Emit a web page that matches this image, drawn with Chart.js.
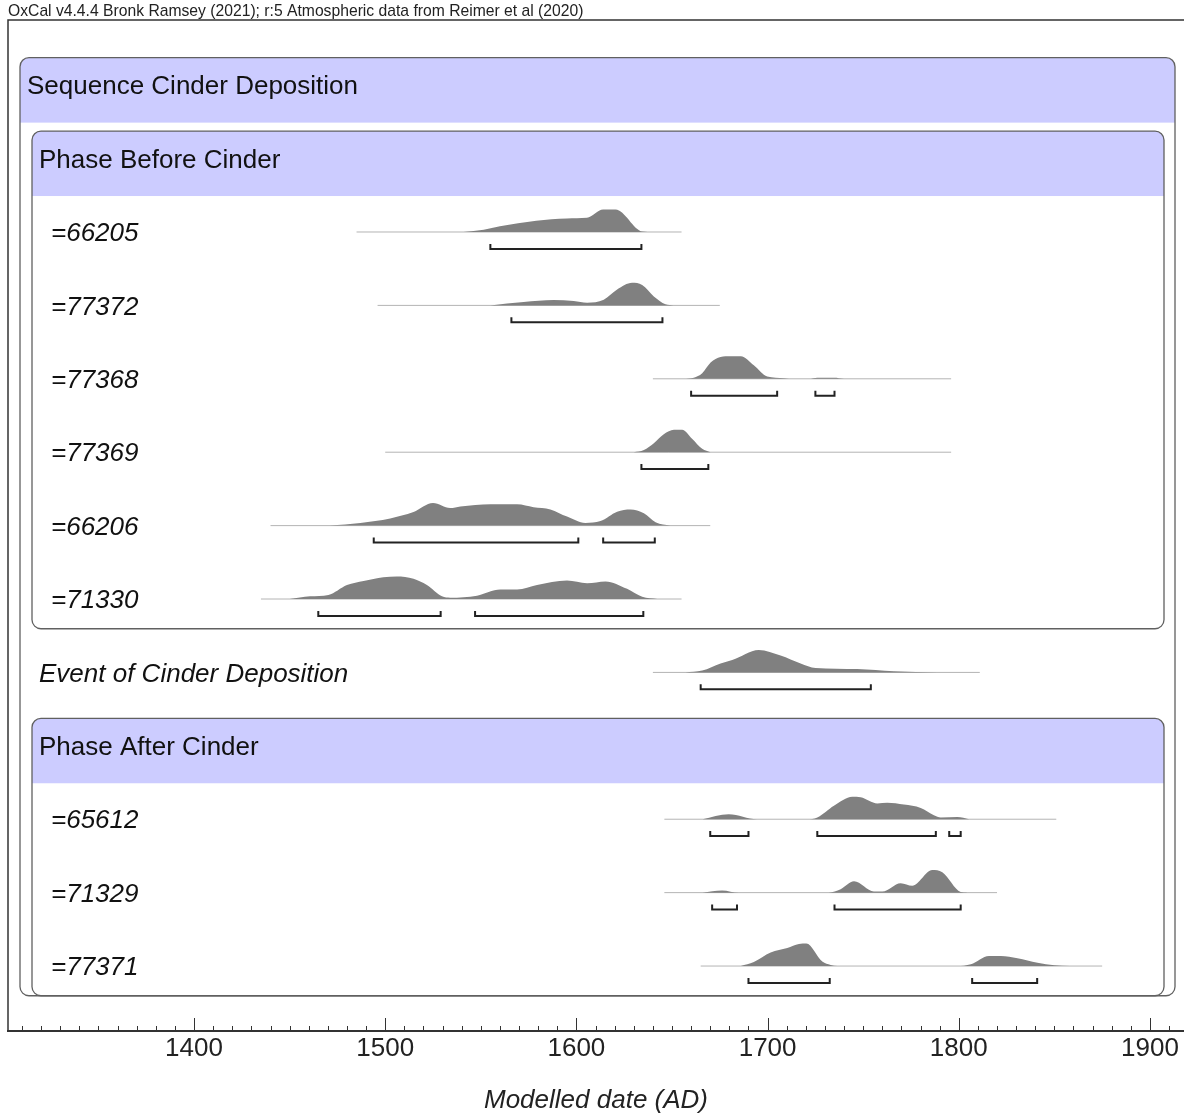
<!DOCTYPE html>
<html>
<head>
<meta charset="utf-8">
<title>Cinder Deposition - OxCal</title>
<script src="https://cdn.jsdelivr.net/npm/chart.js@4.4.0/dist/chart.umd.min.js"></script>
<style>
    html, body { margin: 0; padding: 0; background: #fff; }
    #grafico { display: block; }
</style>
</head>
<body>
<canvas id="grafico" width="1184" height="1116"></canvas>
<script>
const titulo = 'OxCal v4.4.4 Bronk Ramsey (2021); r:5 Atmospheric data from Reimer et al (2020)';
const tituloEixo = 'Modelled date (AD)';
const tickYears = [1400, 1500, 1600, 1700, 1800, 1900];

const sequenceName = 'Sequence Cinder Deposition';
const phaseNames = ['Phase Before Cinder', 'Phase After Cinder'];
const rowLabels = ['=66205', '=77372', '=77368', '=77369', '=66206', '=71330',
    'Event of Cinder Deposition', '=65612', '=71329', '=77371'];

// probability curves (relative to each curve's own maximum)
const years66205 = [1541, 1551.5, 1560, 1579, 1595, 1605.5, 1614, 1620.5, 1634.5, 1640];
const prob66205 = [0, 0.1, 0.25, 0.5, 0.6, 0.63, 1, 1, 0.02, 0];
const hpd66205 = [[1555, 1634]];
const span66205 = [1485, 1655];

const years77372 = [1555, 1572.4, 1588.1, 1598.6, 1605.6, 1614.3, 1621.3, 1629.1, 1634.4, 1640.5, 1646.6, 1650.8];
const prob77372 = [0, 0.15, 0.24, 0.2, 0.12, 0.25, 0.7, 1, 0.9, 0.4, 0.05, 0];
const hpd77372 = [[1566, 1645]];
const span77372 = [1496, 1675];

const years77368 = [1656, 1661.4, 1665.8, 1670.2, 1675.4, 1680.6, 1686, 1692.8, 1699.8, 1708.5, 1714, 1721.6, 1726, 1734.7, 1740];
const prob77368 = [0, 0.05, 0.25, 0.72, 0.97, 1, 1, 0.6, 0.1, 0.03, 0, 0, 0.05, 0.05, 0];
const hpd77368 = [[1660, 1705], [1725, 1735]];
const span77368 = [1640, 1796];

const years77369 = [1630, 1635.3, 1640.5, 1645.7, 1651, 1655.3, 1660.5, 1665.8, 1670.2];
const prob77369 = [0, 0.1, 0.4, 0.8, 1, 1, 0.6, 0.15, 0];
const hpd77369 = [[1634, 1669]];
const span77369 = [1500, 1796];

const years66206 = [1471, 1487, 1502.6, 1514.8, 1525, 1534, 1539.3, 1555, 1569, 1577.6, 1586.4, 1595.1, 1604.7, 1612.6, 1621.3, 1628.3, 1635.3, 1641.4, 1649.2];
const prob66206 = [0, 0.12, 0.32, 0.6, 1, 0.78, 0.85, 0.95, 0.95, 0.82, 0.72, 0.4, 0.12, 0.2, 0.62, 0.72, 0.55, 0.15, 0];
const hpd66206 = [[1494, 1601], [1614, 1641]];
const span66206 = [1440, 1670];

const years71330 = [1450, 1460.7, 1470.3, 1480, 1488.7, 1499, 1506, 1514.8, 1521.8, 1529.7, 1534, 1548, 1560.2, 1569, 1579.4, 1595.1, 1605.6, 1615.2, 1626.5, 1634.4, 1642.3];
const prob71330 = [0, 0.12, 0.18, 0.62, 0.8, 0.97, 1, 0.9, 0.62, 0.12, 0.06, 0.15, 0.42, 0.42, 0.62, 0.82, 0.7, 0.78, 0.45, 0.1, 0];
const hpd71330 = [[1465, 1529], [1547, 1635]];
const span71330 = [1435, 1655];

const yearsEvent = [1657, 1665.8, 1675.4, 1681.5, 1695.4, 1706.8, 1717.3, 1725.1, 1746.9, 1766.1, 1788.8];
const probEvent = [0, 0.08, 0.4, 0.55, 1, 0.75, 0.4, 0.2, 0.15, 0.05, 0];
const hpdEvent = [[1665, 1754]];
const spanEvent = [1640, 1811];

const years65612 = [1666, 1679.7, 1694.5, 1720.7, 1726, 1734.7, 1744.3, 1748.7, 1757.4, 1762.6, 1771.3, 1780.1, 1787, 1790.6, 1799.3, 1805.4];
const prob65612 = [0, 0.22, 0, 0, 0.08, 0.6, 1, 0.97, 0.7, 0.73, 0.65, 0.5, 0.18, 0.08, 0.1, 0];
const hpd65612 = [[1670, 1690], [1726, 1788], [1795, 1801]];
const span65612 = [1646, 1851];

const years71329 = [1666, 1676.2, 1685, 1732, 1738.2, 1745.2, 1755.6, 1760, 1769.6, 1775.7, 1786.1, 1791.4, 1801, 1804.5];
const prob71329 = [0, 0.1, 0, 0, 0.15, 0.5, 0.05, 0.05, 0.42, 0.3, 1, 0.9, 0.03, 0];
const hpd71329 = [[1671, 1684], [1735, 1801]];
const span71329 = [1646, 1820];

const years77371 = [1686, 1692.8, 1701.6, 1710.3, 1716.4, 1720.3, 1728.6, 1733, 1740, 1799.2, 1806.3, 1815.8, 1822, 1830.7, 1841.2, 1850, 1858];
const prob77371 = [0, 0.18, 0.6, 0.8, 0.98, 1, 0.2, 0.05, 0, 0, 0.08, 0.45, 0.45, 0.35, 0.15, 0.03, 0];
const hpd77371 = [[1690, 1732.5], [1807, 1841]];
const span77371 = [1665, 1875];

const curves = [
    [years66205, prob66205, hpd66205, span66205],
    [years77372, prob77372, hpd77372, span77372],
    [years77368, prob77368, hpd77368, span77368],
    [years77369, prob77369, hpd77369, span77369],
    [years66206, prob66206, hpd66206, span66206],
    [years71330, prob71330, hpd71330, span71330],
    [yearsEvent, probEvent, hpdEvent, spanEvent],
    [years65612, prob65612, hpd65612, span65612],
    [years71329, prob71329, hpd71329, span71329],
    [years77371, prob77371, hpd77371, span77371]
];

// row slots on the y scale (slot 7 holds the second phase header)
const slots = [0, 1, 2, 3, 4, 5, 6, 8, 9, 10];
const altura = 0.307;      // peak height in rows
const colchete = 0.23;     // bracket offset below the baseline
const perna = 0.068;       // bracket end tick

const fonte = "'Liberation Sans', Arial, sans-serif";
Chart.defaults.font.family = fonte;

const datasets = [];
curves.forEach((c, i) => {
    const slot = slots[i];
    const [anos, probs, hpd, span] = c;

    const pontos = [];
    hpd.forEach(r => {
        pontos.push({ x: r[0], y: slot + colchete - perna });
        pontos.push({ x: r[0], y: slot + colchete });
        pontos.push({ x: r[1], y: slot + colchete });
        pontos.push({ x: r[1], y: slot + colchete - perna });
        pontos.push({ x: r[1], y: null });
    });
    datasets.push({
        data: pontos,
        borderColor: '#222',
        borderWidth: 2,
        pointRadius: 0,
        fill: false,
        spanGaps: false
    });

    datasets.push({
        data: anos.map((a, k) => ({ x: a, y: slot - probs[k] * altura })),
        borderColor: 'rgba(0,0,0,0)',
        borderWidth: 0,
        backgroundColor: '#808080',
        pointRadius: 0,
        cubicInterpolationMode: 'monotone',
        fill: { value: slot }
    });

    datasets.push({
        data: [{ x: span[0], y: slot }, { x: span[1], y: slot }],
        borderColor: '#b4b4b4',
        borderWidth: 1,
        pointRadius: 0,
        fill: false
    });
});

function caixaRedonda(ctx, x, y, w, h, r) {
    ctx.beginPath();
    ctx.moveTo(x + r, y);
    ctx.lineTo(x + w - r, y);
    ctx.arcTo(x + w, y, x + w, y + r, r);
    ctx.lineTo(x + w, y + h - r);
    ctx.arcTo(x + w, y + h, x + w - r, y + h, r);
    ctx.lineTo(x + r, y + h);
    ctx.arcTo(x, y + h, x, y + h - r, r);
    ctx.lineTo(x, y + r);
    ctx.arcTo(x, y, x + r, y, r);
    ctx.closePath();
}

function desenhaCaixa(ctx, ys, esq, dir, slotTitulo, slotFim, texto) {
    const topo = ys.getPixelForValue(slotTitulo - 0.375);
    const fimTitulo = ys.getPixelForValue(slotTitulo + 0.51);
    const fundo = ys.getPixelForValue(slotFim + 0.405);
    ctx.save();
    caixaRedonda(ctx, esq, topo, dir - esq, fundo - topo, 9);
    ctx.fillStyle = '#fff';
    ctx.fill();
    ctx.save();
    ctx.clip();
    ctx.fillStyle = '#ccccff';
    ctx.fillRect(esq, topo, dir - esq, fimTitulo - topo);
    ctx.restore();
    ctx.strokeStyle = '#606060';
    ctx.lineWidth = 1.3;
    ctx.stroke();
    ctx.fillStyle = '#111';
    ctx.font = '26px ' + fonte;
    ctx.textBaseline = 'middle';
    ctx.textAlign = 'left';
    ctx.fillText(texto, esq + 7, ys.getPixelForValue(slotTitulo) + 2);
    ctx.restore();
}

const molduraOxcal = {
    id: 'molduraOxcal',
    beforeDatasetsDraw(chart) {
        const { ctx, chartArea, scales } = chart;
        const ys = scales.y;
        ctx.save();
        ctx.fillStyle = '#222';
        ctx.font = '15.7px ' + fonte;
        ctx.textBaseline = 'middle';
        ctx.fillText(titulo, chartArea.left, 12);
        ctx.strokeStyle = '#333';
        ctx.lineWidth = 1.5;
        ctx.beginPath();
        ctx.moveTo(chartArea.right, chartArea.top);
        ctx.lineTo(chartArea.left, chartArea.top);
        ctx.lineTo(chartArea.left, chartArea.bottom);
        ctx.stroke();
        ctx.restore();

        const seqEsq = chartArea.left + 12, seqDir = chartArea.right - 9;
        const faseEsq = chartArea.left + 24, faseDir = chartArea.right - 20;
        desenhaCaixa(ctx, ys, seqEsq, seqDir, -2, 10, sequenceName);
        desenhaCaixa(ctx, ys, faseEsq, faseDir, -1, 5, phaseNames[0]);
        desenhaCaixa(ctx, ys, faseEsq, faseDir, 7, 10, phaseNames[1]);

        ctx.save();
        ctx.fillStyle = '#111';
        ctx.font = 'italic 26px ' + fonte;
        ctx.textBaseline = 'middle';
        rowLabels.forEach((lab, i) => {
            const dentro = slots[i] === 6 ? seqEsq : faseEsq;
            ctx.fillText(lab, dentro + 19, ys.getPixelForValue(slots[i]) + 2);
        });
        ctx.restore();
    },
    afterDraw(chart) {
        const { ctx, chartArea, scales } = chart;
        const xs = scales.x;
        ctx.save();
        ctx.strokeStyle = '#333';
        ctx.lineWidth = 1;
        ctx.beginPath();
        for (let ano = 1310; ano <= xs.max; ano += 10) {
            const px = Math.round(xs.getPixelForValue(ano)) + 0.5;
            const comp = ano % 100 === 0 ? 13 : 5;
            ctx.moveTo(px, chartArea.bottom);
            ctx.lineTo(px, chartArea.bottom - comp);
        }
        ctx.stroke();
        ctx.restore();
    }
};

const grafico = new Chart(document.getElementById('grafico').getContext('2d'), {
    type: 'line',
    data: { datasets: datasets },
    options: {
        responsive: false,
        animation: false,
        events: [],
        layout: { padding: { left: 8, top: 20, right: 0, bottom: 0 } },
        plugins: {
            legend: { display: false },
            tooltip: { enabled: false }
        },
        scales: {
            x: {
                type: 'linear',
                min: 1302.7,
                max: 1917.8,
                afterBuildTicks: s => { s.ticks = tickYears.map(v => ({ value: v })); },
                afterFit: s => { s.height = 85; },
                grid: { display: true, drawOnChartArea: false, drawTicks: false },
                border: { display: true, color: '#333', width: 2 },
                ticks: {
                    color: '#222',
                    font: { size: 26 },
                    padding: 2,
                    maxRotation: 0,
                    autoSkip: false,
                    callback: v => String(v)
                },
                title: {
                    display: true,
                    text: tituloEixo,
                    color: '#222',
                    font: { size: 26, style: 'italic' },
                    padding: { top: 0, bottom: 0 }
                }
            },
            y: {
                type: 'linear',
                reverse: true,
                min: -2.888,
                max: 10.885,
                display: false
            }
        }
    },
    plugins: [molduraOxcal]
});
</script>
</body>
</html>
